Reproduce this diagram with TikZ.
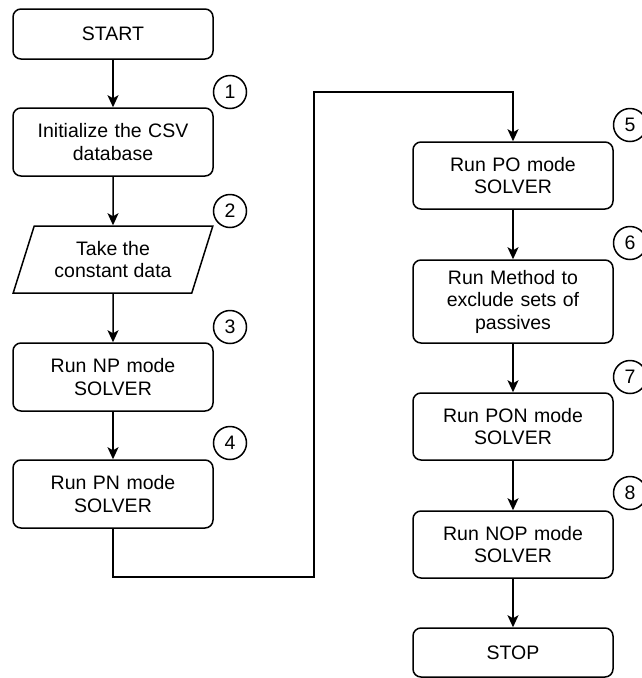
\documentclass[tikz,border=0pt]{standalone}
\usepackage{fontspec}
\setmainfont{Liberation Sans}
\usetikzlibrary{arrows.meta,shapes.geometric}
\begin{document}
\begin{tikzpicture}[x=1pt,y=-1pt,
  line width=1.5pt,
  every node/.style={font=\fontsize{19.5}{22.5}\selectfont},
  procbox/.style={draw,rounded corners=8pt,minimum width=200pt,text width=194pt,align=center,inner sep=0pt},
  iobox/.style={draw,trapezium,trapezium left angle=67,trapezium right angle=113,trapezium stretches=true,minimum width=200pt,minimum height=67pt,align=center,inner sep=0pt},
  stepnum/.style={draw,circle,minimum size=33pt,inner sep=0pt},
  flow/.style={-{Stealth[length=12pt,width=11pt,inset=3pt]}}]
\useasboundingbox (0,0) rectangle (641,678);

% left column
\node[procbox,minimum height=50pt] (start) at (113,34) {START};
\node[procbox,minimum height=68pt] (init) at (113,142) {Initialize the CSV\\database};
\node[iobox] (data) at (113,259.5) {Take the\\constant data};
\node[procbox,minimum height=68pt] (np) at (113,377) {Run NP mode\\SOLVER};
\node[procbox,minimum height=68pt] (pn) at (113,494) {Run PN mode\\SOLVER};

% right column
\node[procbox,minimum height=67pt] (po) at (513,175.5) {Run PO mode\\SOLVER};
\node[procbox,minimum height=83pt] (method) at (513,301.5) {Run Method to\\exclude sets of\\passives};
\node[procbox,minimum height=67pt] (pon) at (513,426.5) {Run PON mode\\SOLVER};
\node[procbox,minimum height=67pt] (nop) at (513,544.5) {Run NOP mode\\SOLVER};
\node[procbox,minimum height=49pt] (stop) at (513,652.5) {STOP};

% step numbers
\node[stepnum] (n1) at (230,92) {1};
\node[stepnum] (n2) at (230,211) {2};
\node[stepnum] (n3) at (230,327) {3};
\node[stepnum] (n4) at (230,443) {4};
\node[stepnum] (n5) at (630,125) {5};
\node[stepnum] (n6) at (630,243) {6};
\node[stepnum] (n7) at (630,377) {7};
\node[stepnum] (n8) at (630,493) {8};

% bends of the link between the two columns
\coordinate (b1) at (113,577);
\coordinate (b2) at (314,577);
\coordinate (b3) at (314,92);
\coordinate (b4) at (513,92);

% connectors
\draw[flow] (start) -- (init);
\draw[flow] (init) -- (data);
\draw[flow] (data) -- (np);
\draw[flow] (np) -- (pn);
\draw[flow] (pn.south) -- (b1) -- (b2) -- (b3) -- (b4) -- (po.north);
\draw[flow] (po) -- (method);
\draw[flow] (method) -- (pon);
\draw[flow] (pon) -- (nop);
\draw[flow] (nop) -- (stop);
\end{tikzpicture}
\end{document}
